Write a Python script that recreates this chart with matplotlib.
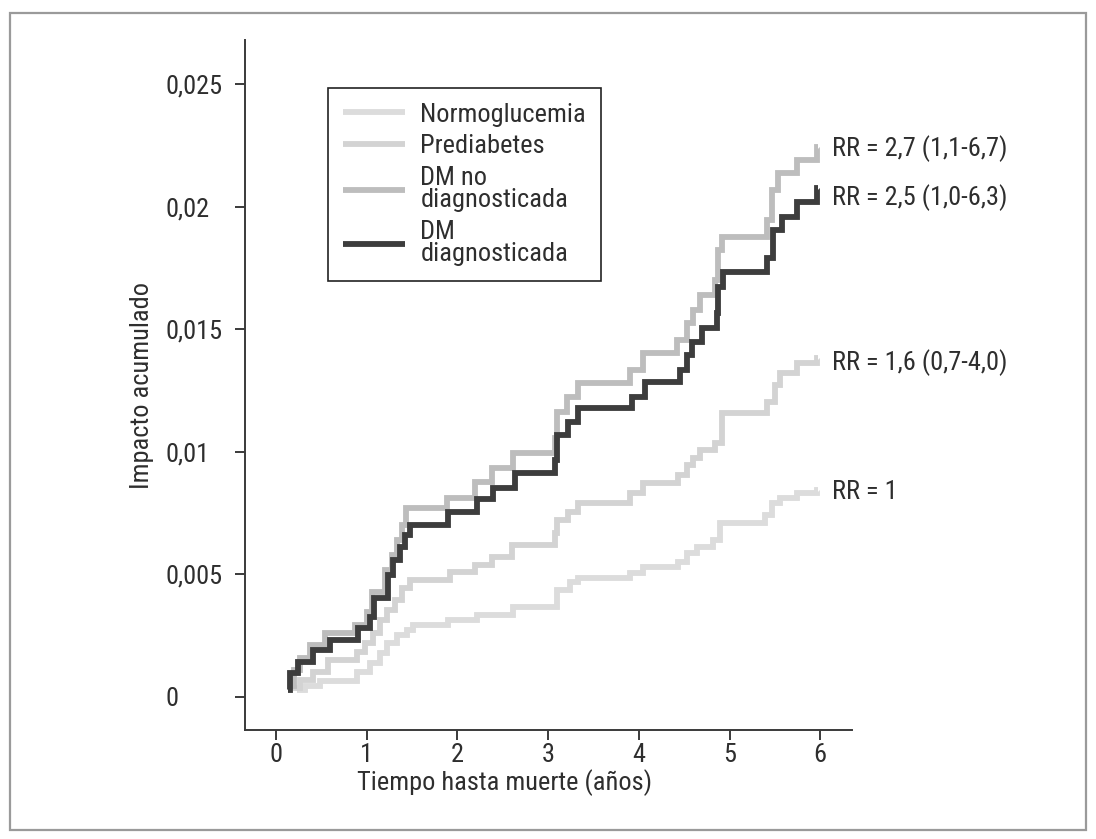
import matplotlib
matplotlib.use("Agg")
import matplotlib.pyplot as plt
from matplotlib.patches import Rectangle

plt.rcParams['font.family'] = ['Roboto Condensed', 'Liberation Sans', 'DejaVu Sans']

# Cumulative incidence step curves (time in years, cumulative impact)
t_normo = [0.232, 0.320, 0.485, 0.893, 1.036, 1.147, 1.224, 1.334, 1.444, 1.510,
           1.896, 2.216, 2.613, 3.098, 3.241, 3.330, 3.903, 4.046, 4.432, 4.531,
           4.642, 4.818, 4.895, 5.391, 5.469, 5.557, 5.744, 5.965, 5.98]
y_normo = [0.00029, 0.00045, 0.00065, 0.00102, 0.00139, 0.00179, 0.00220, 0.00253,
           0.00273, 0.00294, 0.00314, 0.00334, 0.00367, 0.00436, 0.00469, 0.00485,
           0.00506, 0.00530, 0.00551, 0.00587, 0.00612, 0.00640, 0.00710, 0.00742,
           0.00791, 0.00812, 0.00832, 0.00844, 0.00844]

t_pred = [0.187, 0.265, 0.408, 0.573, 0.893, 0.981, 1.069, 1.147, 1.224, 1.312,
          1.389, 1.477, 1.918, 2.194, 2.381, 2.602, 3.076, 3.098, 3.219, 3.330,
          3.903, 4.046, 4.432, 4.531, 4.598, 4.675, 4.840, 4.917, 5.413, 5.502,
          5.557, 5.744, 5.965, 5.98]
y_pred = [0.00037, 0.00069, 0.00102, 0.00151, 0.00184, 0.00220, 0.00261, 0.00314,
          0.00355, 0.00396, 0.00445, 0.00477, 0.00510, 0.00538, 0.00571, 0.00620,
          0.00669, 0.00722, 0.00754, 0.00791, 0.00832, 0.00873, 0.00905, 0.00946,
          0.00975, 0.01007, 0.01036, 0.01158, 0.01203, 0.01272, 0.01321, 0.01362,
          0.01382, 0.01382]

t_dmnd = [0.154, 0.198, 0.265, 0.375, 0.540, 0.871, 1.003, 1.058, 1.202, 1.279,
          1.334, 1.389, 1.433, 1.885, 2.194, 2.381, 2.613, 3.076, 3.098, 3.208,
          3.330, 3.903, 4.046, 4.421, 4.531, 4.598, 4.675, 4.840, 4.873, 4.917,
          5.413, 5.469, 5.535, 5.744, 5.965, 5.98]
y_dmnd = [0.00045, 0.00110, 0.00159, 0.00212, 0.00261, 0.00294, 0.00347, 0.00428,
          0.00518, 0.00579, 0.00640, 0.00701, 0.00771, 0.00812, 0.00877, 0.00934,
          0.00995, 0.01056, 0.01162, 0.01223, 0.01280, 0.01333, 0.01403, 0.01456,
          0.01525, 0.01578, 0.01639, 0.01701, 0.01823, 0.01876, 0.01945, 0.02067,
          0.02137, 0.02190, 0.02243, 0.02243]

t_dmd = [0.132, 0.154, 0.243, 0.408, 0.595, 0.904, 1.036, 1.080, 1.235, 1.290,
         1.367, 1.422, 1.477, 1.896, 2.216, 2.392, 2.635, 3.076, 3.098, 3.219,
         3.330, 3.925, 4.068, 4.454, 4.531, 4.587, 4.697, 4.862, 4.873, 4.928,
         5.413, 5.480, 5.579, 5.744, 5.965, 5.98]
y_dmd = [0.00029, 0.00098, 0.00143, 0.00192, 0.00232, 0.00281, 0.00326, 0.00404,
         0.00498, 0.00559, 0.00612, 0.00661, 0.00701, 0.00754, 0.00807, 0.00852,
         0.00913, 0.00966, 0.01068, 0.01121, 0.01179, 0.01223, 0.01285, 0.01333,
         0.01395, 0.01448, 0.01505, 0.01566, 0.01672, 0.01733, 0.01790, 0.01904,
         0.01957, 0.02019, 0.02076, 0.02076]

labels = ["Normoglucemia", "Prediabetes", "DM no\ndiagnosticada", "DM\ndiagnosticada"]
colors = ["#dcdcdc", "#d3d3d3", "#bdbdbd", "#3d3d3d"]
rr_texts = ["RR = 1", "RR = 1,6 (0,7-4,0)", "RR = 2,7 (1,1-6,7)", "RR = 2,5 (1,0-6,3)"]
rr_y = [0.00836, 0.01366, 0.02239, 0.02039]

x_ticks = [0, 1, 2, 3, 4, 5, 6]
y_ticks = [0, 0.005, 0.01, 0.015, 0.02, 0.025]
y_ticklabels = ["0", "0,005", "0,01", "0,015", "0,02", "0,025"]

text_color = "#2e2e2e"
axis_color = "#3a3a3a"
fs = 19

fig = plt.figure(figsize=(10.96, 8.39), dpi=100)
fig.patches.append(Rectangle((10 / 1096, 1 - 830 / 839), 1076 / 1096, 817 / 839,
                             transform=fig.transFigure, fill=False,
                             edgecolor="#9a9a9a", linewidth=1.6))

ax = fig.add_axes([0.2235, 0.1299, 0.5539, 0.8224])

series = [(t_normo, y_normo), (t_pred, y_pred), (t_dmnd, y_dmnd), (t_dmd, y_dmd)]
handles = []
for (t, y), lab, col in zip(series, labels, colors):
    h, = ax.step(t, y, where="post", color=col, linewidth=4.2,
                 solid_joinstyle="miter", solid_capstyle="butt", label=lab)
    handles.append(h)

for txt, yy in zip(rr_texts, rr_y):
    ax.text(6.13, yy, txt, fontsize=fs, color=text_color, va="center", ha="left",
            clip_on=False)

ax.set_xlim(-0.34, 6.35)
ax.set_ylim(-0.00135, 0.0268)
ax.set_xticks(x_ticks)
ax.set_yticks(y_ticks)
ax.set_yticklabels(y_ticklabels)
for lab in ax.get_yticklabels():
    lab.set_horizontalalignment("left")

for side in ["top", "right"]:
    ax.spines[side].set_visible(False)
for side in ["left", "bottom"]:
    ax.spines[side].set_color(axis_color)
    ax.spines[side].set_linewidth(1.4)

ax.tick_params(axis="both", direction="out", length=7, width=1.4,
               color=axis_color, labelsize=fs, labelcolor=text_color)
ax.tick_params(axis="y", pad=50)
ax.tick_params(axis="x", pad=2)

ax.set_xlabel("Tiempo hasta muerte (años)", fontsize=fs, color=text_color)
ax.xaxis.set_label_coords(0.428, -0.057)
ax.set_ylabel("Impacto acumulado", fontsize=fs, color=text_color)
ax.yaxis.set_label_coords(-0.15, 0.5)

leg = fig.legend(handles=handles, labels=labels, loc="upper left",
                 bbox_to_anchor=(328 / 1096, 1 - 88 / 839), fontsize=fs,
                 frameon=True, fancybox=False, framealpha=1, edgecolor="#222222",
                 handlelength=2.35, handletextpad=0.6, labelspacing=0.3,
                 borderpad=0.55, borderaxespad=0)
leg.get_frame().set_linewidth(1.2)
for t in leg.get_texts():
    t.set_color(text_color)
    t.set_linespacing(0.9)

fig.savefig("out.png", dpi=100)
